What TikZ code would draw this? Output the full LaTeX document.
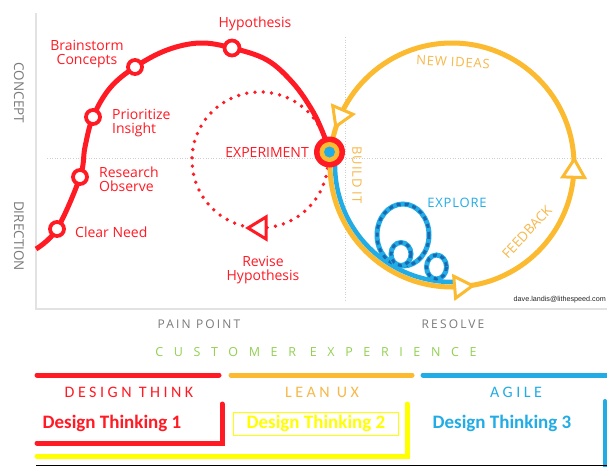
\documentclass[tikz,border=0pt]{standalone}
\usepackage{fontspec}
\setmainfont{Open Sans}
\newfontfamily\calfont{Carlito}
\newfontfamily\mailfont{Liberation Sans}
\usetikzlibrary{calc}

\definecolor{dtred}{HTML}{FF1A24}
\definecolor{lxorange}{HTML}{FBBA30}
\definecolor{lxtext}{HTML}{F7B84A}
\definecolor{agblue}{HTML}{22ACE6}
\definecolor{agdark}{HTML}{1B68B0}
\definecolor{axisgray}{HTML}{7A7A7A}
\definecolor{framegray}{HTML}{E2E2E2}
\definecolor{guidegray}{HTML}{CFCFCF}
\definecolor{cxgreen}{HTML}{92D050}
\definecolor{dtyellow}{HTML}{FFFF00}
\definecolor{baseline}{HTML}{E6EEF6}

\tikzset{
  stepdot/.style={circle, draw=dtred, fill=white, line width=3.8pt, minimum size=14pt, inner sep=0pt},
  redlab/.style={text=dtred, font=\fontsize{14}{13.5}\selectfont, inner sep=0pt},
  axislab/.style={text=axisgray, font=\fontsize{13.5}{14}\selectfont, inner sep=0pt},
  looplab/.style={font=\addfontfeature{LetterSpace=6}\fontsize{13}{13}\selectfont, inner sep=0pt},
  bandlab/.style={font=\calfont\addfontfeature{LetterSpace=22}\fontsize{16}{17}\selectfont, inner sep=0pt},
  dtlab/.style={font=\calfont\bfseries\fontsize{19}{20}\selectfont, inner sep=0pt},
  bar/.style={line width=5pt, line cap=round},
  loopbase/.style={agblue, line width=5pt},
  loopdash/.style={agdark, line width=3pt, dash pattern=on 4pt off 4pt},
  pics/opentri/.style={code={
    \draw[draw=#1, fill=white, line width=3pt, line join=miter]
      (-8,-11) -- (10,0) -- (-8,11) -- cycle;}}
}

\begin{document}
\begin{tikzpicture}[x=1pt, y=-1pt]
\useasboundingbox (0,0) rectangle (607,466);
\fill[white] (0,0) rectangle (607,466);

% frame and guides
\draw[framegray, line width=1.5pt] (36,13) -- (36,309) -- (607,309);
\draw[guidegray, dotted, line width=0.6pt] (47,158) -- (603,158);
\draw[guidegray, dotted, line width=0.6pt] (345,37) -- (345,300);

\node[axislab, rotate=-90] (concept) at (19,93) {CONCEPT};
\node[axislab, rotate=-90] (direction) at (19,236) {DIRECTION};

% revise loop
\coordinate (rc) at (260,160);
\draw[dtred, line width=3.8pt, line cap=round, dash pattern=on 0pt off 8.3pt] (rc) circle[radius=68];
\pic[rotate=180] (revarrow) at (258,228) {opentri=dtred};

% build / feedback loop
\coordinate (oc) at (452,165);
\draw[lxorange, line width=5pt] (oc) circle[radius=122];
\draw[agblue, line width=4.5pt] ($(oc)+(186:117)$) arc[start angle=186, end angle=88, radius=117];

% explore loops
\foreach \cx/\cy/\rx/\ry in {403/235/26/31, 401/254/10/11.5, 436.5/267/10/12} {
  \draw[loopbase] (\cx,\cy) ellipse[x radius=\rx, y radius=\ry];
  \draw[loopdash] (\cx,\cy) ellipse[x radius=\rx, y radius=\ry];
}

\pic[rotate=-113] (ideasarrow) at ($(oc)+(203:122)$) {opentri=lxorange};
\pic[rotate=88] (feedarrow) at ($(oc)+(2:122)$) {opentri=lxorange};
\pic[rotate=5] (buildarrow) at ($(oc)+(85:122)$) {opentri=lxorange};

% design thinking curve
\draw[dtred, line width=5pt] plot[smooth, tension=0.6] coordinates {
  (36,249) (57,229) (80,177) (85,147) (93,117) (110,88) (135,67) (167,50)
  (200,43) (232,48) (267,60) (293,83) (312,110) (323,133) (329.5,152)};

\node[stepdot] (clear) at (57,229) {};
\node[stepdot] (research) at (80,177) {};
\node[stepdot] (prioritize) at (93,117) {};
\node[stepdot] (brainstorm) at (135,67) {};
\node[stepdot, minimum size=15pt] (hypothesis) at (232,48) {};

\node[circle, fill=dtred, minimum size=31pt, inner sep=0pt] (experiment) at (329.5,152) {};
\node[circle, fill=lxorange, minimum size=20pt, inner sep=0pt] (expring) at (experiment) {};
\node[circle, fill=agblue, minimum size=11pt, inner sep=0pt] (expcore) at (experiment) {};

% step labels
\node[redlab, anchor=west] (clearlab) at (75,232) {Clear Need};
\node[redlab, anchor=west, align=left] (reslab) at (99,179) {Research\\Observe};
\node[redlab, anchor=west, align=left] (prilab) at (112,123) {Prioritize\\Insight};
\node[redlab, align=center] (brainlab) at (87,54) {Brainstorm\\Concepts};
\node[redlab] (hypolab) at (255,24) {Hypothesis};
\node[redlab, anchor=east] (explab) at (309,152) {EXPERIMENT};
\node[redlab, align=center] (revlab) at (263,270) {Revise\\Hypothesis};

% loop labels
\node[looplab, text=lxtext, rotate=-3] (ideaslab) at (453,62) {NEW IDEAS};
\node[looplab, text=lxtext, rotate=-90] (buildlab) at (357,175) {BUILD IT};
\node[looplab, text=agblue] (explorelab) at (457,203) {EXPLORE};
\node[text=lxtext, rotate=47, font=\fontsize{13.5}{14}\selectfont, inner sep=0pt] (feedlab) at (527,232) {FEEDBACK};

\node[font=\mailfont\fontsize{7.2}{8}\selectfont, text=black!85, anchor=east, inner sep=0pt] (mail) at (606,300) {dave.landis@lithespeed.com};

% horizontal axis
\node[font=\addfontfeature{LetterSpace=18}\fontsize{12}{13}\selectfont, text=axisgray, inner sep=0pt] (pain) at (199,324) {PAIN POINT};
\node[font=\addfontfeature{LetterSpace=18}\fontsize{12}{13}\selectfont, text=axisgray, inner sep=0pt] (resolve) at (453,324) {RESOLVE};
\node[font=\addfontfeature{LetterSpace=85}\fontsize{12.5}{13}\selectfont, text=cxgreen, inner sep=0pt] (cx) at (316,352) {CUSTOMER EXPERIENCE};

% practice bands
\draw[bar, dtred] (37,375) -- (219,375);
\draw[bar, lxorange] (231,375) -- (412,375);
\draw[bar, agblue] (423,375) -- (610,375);

\node[bandlab, text=dtred] (dtband) at (129,392) {DESIGN THINK};
\node[bandlab, text=lxtext] (lxband) at (322,392) {LEAN UX};
\node[bandlab, text=agblue] (agband) at (516,392) {AGILE};

\node[dtlab, text=dtred] (dt1) at (112,423) {Design Thinking 1};
\node[dtlab, text=dtyellow, draw=dtyellow, line width=0.8pt, minimum width=165pt, minimum height=23pt] (dt2) at (316,423.5) {Design Thinking 2};
\node[dtlab, text=agblue] (dt3) at (502,423) {Design Thinking 3};

\draw[line width=5pt, dtred, line cap=round, line join=miter] (37,443) -- (222,443) -- (222,404);
\draw[line width=5pt, dtyellow, line cap=round, line join=miter] (37,456) -- (407,456) -- (407,404);
\draw[line width=4pt, agblue, line cap=round] (605,401) -- (605,470);
\draw[baseline, line width=1pt] (36,465.5) -- (607,465.5);
\end{tikzpicture}
\end{document}
